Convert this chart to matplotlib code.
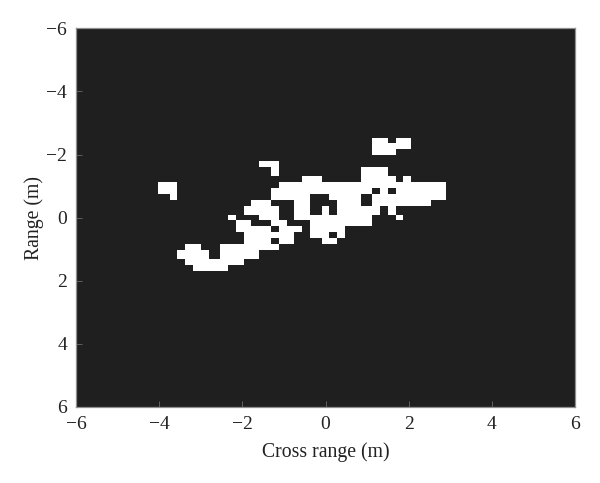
import numpy as np
import matplotlib
matplotlib.use('Agg')
import matplotlib.pyplot as plt

plt.rcParams['font.family'] = ['Liberation Serif', 'DejaVu Serif']

# Binary target image, 128 x 128 cells. White runs per band of rows
grid_size = 128
band_rows = [
    (37, 39), (39, 41), (41, 43), (45, 47), (47, 50), (50, 52), (52, 54),
    (54, 56), (56, 58), (58, 60), (60, 63), (63, 65), (65, 67), (67, 69),
    (69, 71), (71, 73), (73, 75), (75, 78), (78, 80), (80, 82),
]
band_runs = [
    [(76, 80), (82, 86)],
    [(76, 86)],
    [(76, 82)],
    [(47, 52)],
    [(50, 52), (73, 80)],
    [(58, 63), (73, 82), (84, 86)],
    [(21, 26), (52, 95)],
    [(21, 26), (50, 76), (78, 80), (82, 95)],
    [(24, 26), (50, 60), (65, 73), (76, 95)],
    [(45, 50), (56, 60), (67, 73), (76, 91)],
    [(43, 52), (56, 60), (63, 65), (67, 78), (80, 82)],
    [(39, 41), (47, 52), (56, 76), (82, 84)],
    [(41, 45), (50, 54), (60, 76)],
    [(41, 50), (52, 58), (60, 69)],
    [(43, 56), (60, 65), (67, 69)],
    [(43, 50), (52, 56), (63, 67)],
    [(28, 32), (37, 52)],
    [(26, 34), (37, 47)],
    [(28, 43)],
    [(30, 39)],
]
tick_values = [-6, -4, -2, 0, 2, 4, 6]

image = np.zeros((grid_size, grid_size))
for (r0, r1), runs in zip(band_rows, band_runs):
    for c0, c1 in runs:
        image[r0:r1, c0:c1] = 1

fig = plt.figure(figsize=(6, 4.83), dpi=100)
ax = fig.add_axes([76 / 600, 1 - 407 / 483, 499 / 600, 378.7 / 483])
cmap = matplotlib.colors.ListedColormap(['#1f1f1f', '#ffffff'])
ax.imshow(image, cmap=cmap, extent=[-6, 6, 6, -6], aspect='auto',
          interpolation='nearest', vmin=0, vmax=1)

ax.set_xticks(tick_values)
ax.set_yticks(tick_values)
ax.tick_params(direction='in', length=4, width=0.7, color='#5f5f5f',
               labelsize=14, labelcolor='#222222', pad=6.5)
for spine in ax.spines.values():
    spine.set_color('#8f8f8f')
    spine.set_linewidth(0.9)
ax.set_xlabel('Cross range (m)', fontsize=14.2, color='#222222', labelpad=7)
ax.set_ylabel('Range (m)', fontsize=14.2, color='#222222', labelpad=1.5)

fig.savefig('out.png', dpi=100)
